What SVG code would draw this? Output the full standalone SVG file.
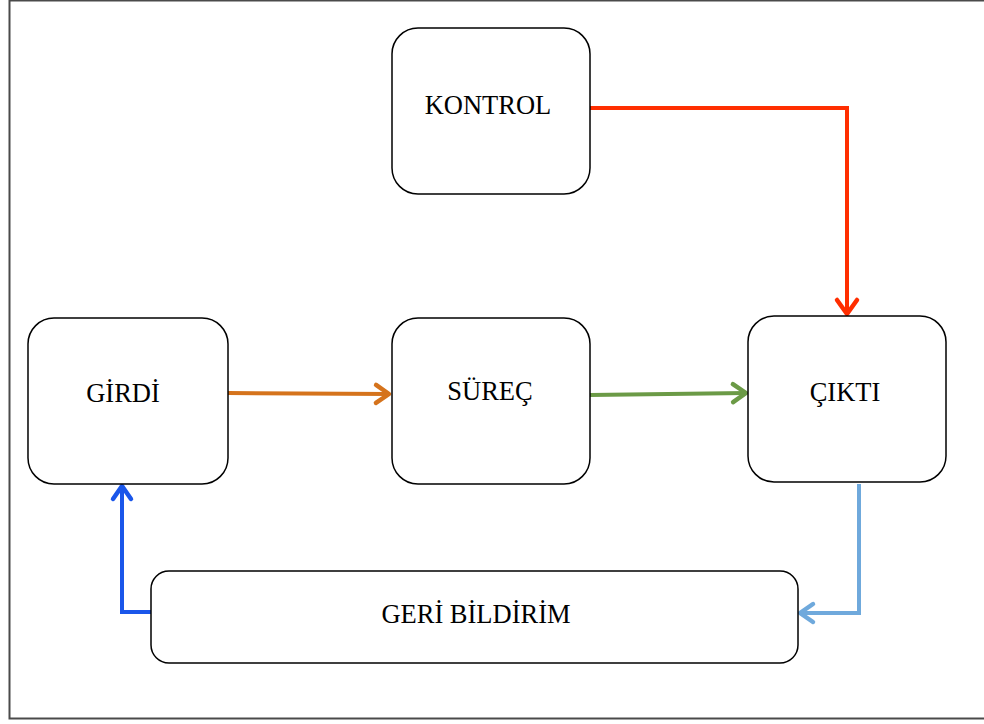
<svg xmlns="http://www.w3.org/2000/svg" width="984" height="724" viewBox="0 0 984 724">
<style>
.box{fill:#fff;stroke:#000;stroke-width:1.5}
.lbl{font-family:"Liberation Serif","Times New Roman",serif;font-size:26.5px;fill:#000;text-anchor:middle}
.ln{fill:none;stroke-width:4;stroke-linejoin:miter}
.hd{fill:none;stroke-width:4.5;stroke-linecap:round;stroke-linejoin:round}
</style>
<defs>
<marker id="mRed" markerUnits="userSpaceOnUse" orient="auto" viewBox="-16 -12 20 24" refX="0" refY="0" markerWidth="20" markerHeight="24" overflow="visible"><path class="hd" stroke="#ff2e00" d="M-14,-10 L0,0 L-14,10"/></marker>
<marker id="mOrange" markerUnits="userSpaceOnUse" orient="auto" viewBox="-16 -12 20 24" refX="0" refY="0" markerWidth="20" markerHeight="24" overflow="visible"><path class="hd" stroke="#d5731c" d="M-13,-9 L0,0 L-13,9"/></marker>
<marker id="mGreen" markerUnits="userSpaceOnUse" orient="auto" viewBox="-16 -12 20 24" refX="0" refY="0" markerWidth="20" markerHeight="24" overflow="visible"><path class="hd" stroke="#6b9a46" d="M-13,-9 L0,0 L-13,9"/></marker>
<marker id="mLight" markerUnits="userSpaceOnUse" orient="auto" viewBox="-16 -12 20 24" refX="0" refY="0" markerWidth="20" markerHeight="24" overflow="visible"><path class="hd" stroke="#6fa9dc" d="M-13,-9 L0,0 L-13,9"/></marker>
<marker id="mBlue" markerUnits="userSpaceOnUse" orient="auto" viewBox="-16 -12 20 24" refX="0" refY="0" markerWidth="20" markerHeight="24" overflow="visible"><path class="hd" stroke="#1a56ea" d="M-13,-9 L0,0 L-13,9"/></marker>
</defs>
<rect x="0" y="0" width="984" height="724" fill="#fff"/>
<rect x="9.5" y="0.5" width="1000" height="718" fill="none" stroke="#4a4a4a" stroke-width="2"/>
<g id="connectors">
<path class="ln" stroke="#ff2e00" d="M590,108 H847 V314" marker-end="url(#mRed)"/>
<path class="ln" stroke="#d5731c" d="M228,393 L389,394" marker-end="url(#mOrange)"/>
<path class="ln" stroke="#6b9a46" d="M590,395 L746,393" marker-end="url(#mGreen)"/>
<path class="ln" stroke="#6fa9dc" d="M859,484 V613 H800" marker-end="url(#mLight)"/>
<path class="ln" stroke="#1a56ea" d="M151,612 H122 V486" marker-end="url(#mBlue)"/>
</g>
<g id="kontrol">
<rect class="box" x="392" y="28" width="198" height="166" rx="26" ry="26"/>
<text class="lbl" x="488" y="114">KONTROL</text>
</g>
<g id="girdi">
<rect class="box" x="28" y="318" width="200" height="166" rx="26" ry="26"/>
<text class="lbl" x="123" y="402">GİRDİ</text>
</g>
<g id="surec">
<rect class="box" x="392" y="318" width="198" height="166" rx="26" ry="26"/>
<text class="lbl" x="490" y="400">SÜREÇ</text>
</g>
<g id="cikti">
<rect class="box" x="748" y="316" width="198" height="166" rx="26" ry="26"/>
<text class="lbl" x="845" y="401">ÇIKTI</text>
</g>
<g id="geri-bildirim">
<rect class="box" x="151" y="571" width="647" height="92" rx="18" ry="18"/>
<text class="lbl" x="476" y="623">GERİ BİLDİRİM</text>
</g>
</svg>
